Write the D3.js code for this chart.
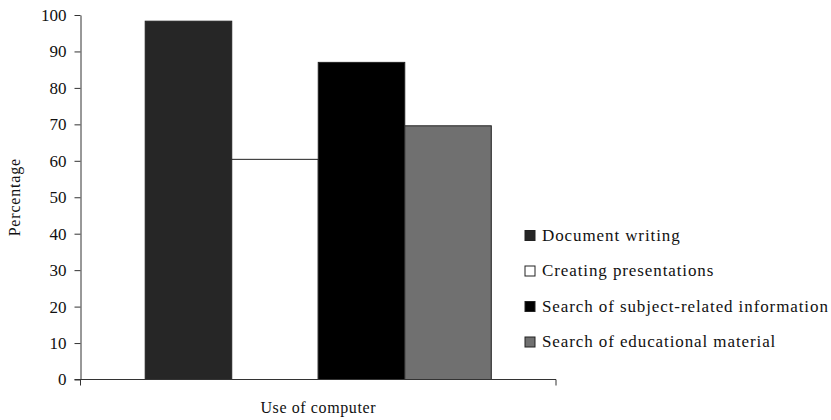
<!DOCTYPE html>
<html>
<head>
<meta charset="utf-8">
<script src="https://cdn.jsdelivr.net/npm/d3@7"></script>
<style>
  body { margin: 0; background: #fff; }
  text { font-family: "Liberation Serif", "Times New Roman", serif; fill: #111; }
</style>
</head>
<body>
<div id="content"></div>
<script>
// Screen dimensions
var w = 831;
var h = 420;

// Data
var groups = ["Use of computer"];
var series = ["Document writing", "Creating presentations",
              "Search of subject-related information", "Search of educational material"];
var values = [98.3, 60.4, 87.0, 69.6];
var colors = ["#262626", "#ffffff", "#000000", "#707070"];
var yTicks = [0, 10, 20, 30, 40, 50, 60, 70, 80, 90, 100];

// Plot area
var mLeft = 80.5, mRight = 556, mTop = 15, mBottom = 379.5;

var svg = d3.select("#content")
    .append("svg")
    .attr("width", w)
    .attr("height", h);

var y = d3.scaleLinear().domain([0, 100]).range([mBottom, mTop]);
var x0 = d3.scaleBand().domain(groups).range([mLeft, mRight]).paddingOuter(0.187).paddingInner(0);
var x1 = d3.scaleBand().domain(series).range([0, x0.bandwidth()]);

// Bars
svg.append("g")
   .selectAll("rect")
   .data(series)
   .enter()
   .append("rect")
   .attr("x", function(d) { return x0(groups[0]) + x1(d); })
   .attr("y", function(d, i) { return y(values[i]); })
   .attr("width", x1.bandwidth())
   .attr("height", function(d, i) { return mBottom - y(values[i]); })
   .attr("fill", function(d, i) { return colors[i]; })
   .attr("stroke", "#222")
   .attr("stroke-width", 1);

// Y axis
var yAxis = svg.append("g")
   .attr("transform", "translate(" + mLeft + ",0)")
   .call(d3.axisLeft(y).tickValues(yTicks).tickSize(6).tickPadding(8).tickSizeOuter(0));
yAxis.select(".domain").attr("stroke", "#333");
yAxis.selectAll(".tick line").attr("stroke", "#333");
yAxis.selectAll("text").attr("font-size", 17).attr("fill", "#111")
     .attr("font-family", "Liberation Serif, serif");

// X axis
var xAxis = svg.append("g")
   .attr("transform", "translate(0," + mBottom + ")");
xAxis.append("line")
   .attr("x1", mLeft - 6).attr("x2", mRight)
   .attr("y1", 0).attr("y2", 0)
   .attr("stroke", "#333");
xAxis.selectAll("line.tk")
   .data([mLeft, mRight])
   .enter()
   .append("line")
   .attr("class", "tk")
   .attr("x1", function(d) { return d; }).attr("x2", function(d) { return d; })
   .attr("y1", 0).attr("y2", 6)
   .attr("stroke", "#333");

// Axis titles
svg.append("text")
   .attr("x", (mLeft + mRight) / 2)
   .attr("y", 413)
   .attr("text-anchor", "middle")
   .attr("font-size", 16)
   .attr("letter-spacing", 0.6)
   .text("Use of computer");
svg.append("text")
   .attr("transform", "translate(20," + ((mTop + mBottom) / 2) + ") rotate(-90)")
   .attr("text-anchor", "middle")
   .attr("font-size", 16)
   .attr("letter-spacing", 0.8)
   .text("Percentage");

// Legend
var legend = svg.append("g")
   .selectAll("g")
   .data(series)
   .enter()
   .append("g")
   .attr("transform", function(d, i) { return "translate(525," + (230.5 + i * 35.5) + ")"; });
legend.append("rect")
   .attr("width", 10).attr("height", 10)
   .attr("fill", function(d, i) { return colors[i]; })
   .attr("stroke", "#222");
legend.append("text")
   .attr("x", 17)
   .attr("y", 10)
   .attr("font-size", 17)
   .attr("letter-spacing", 0.9)
   .text(function(d) { return d; });
</script>
</body>
</html>
